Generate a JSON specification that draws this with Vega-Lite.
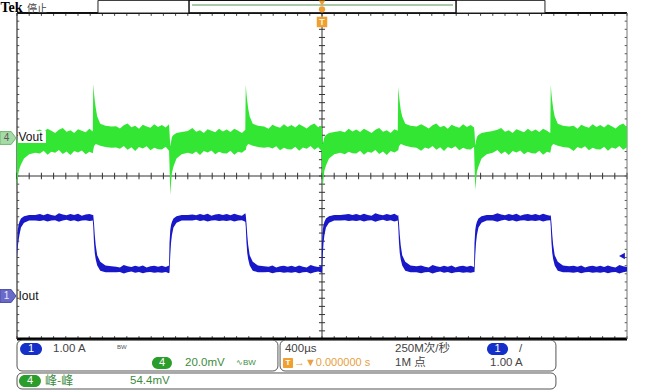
{
"$schema": "https://vega.github.io/schema/vega-lite/v6.json",
"width": 610, "height": 326,
"autosize": {"type": "none"},
"padding": {"left": 17, "top": 13, "right": 23, "bottom": 51},
"background": "white",
"config": {"view": {"stroke": null}, "text": {"font": "Liberation Sans"}},
"data": {"values": [{}]},
"datasets": {
"xt": [{"t":-2000},{"t":-1920},{"t":-1840},{"t":-1760},{"t":-1680},{"t":-1600},{"t":-1520},{"t":-1440},{"t":-1360},{"t":-1280},{"t":-1200},{"t":-1120},{"t":-1040},{"t":-960},{"t":-880},{"t":-800},{"t":-720},{"t":-640},{"t":-560},{"t":-480},{"t":-400},{"t":-320},{"t":-240},{"t":-160},{"t":-80},{"t":0},{"t":80},{"t":160},{"t":240},{"t":320},{"t":400},{"t":480},{"t":560},{"t":640},{"t":720},{"t":800},{"t":880},{"t":960},{"t":1040},{"t":1120},{"t":1200},{"t":1280},{"t":1360},{"t":1440},{"t":1520},{"t":1600},{"t":1680},{"t":1760},{"t":1840},{"t":1920},{"t":2000}],
"yt": [{"v":-4},{"v":-3.8},{"v":-3.6},{"v":-3.4},{"v":-3.2},{"v":-3},{"v":-2.8},{"v":-2.6},{"v":-2.4},{"v":-2.2},{"v":-2},{"v":-1.8},{"v":-1.6},{"v":-1.4},{"v":-1.2},{"v":-1},{"v":-0.8},{"v":-0.6},{"v":-0.4},{"v":-0.2},{"v":0},{"v":0.2},{"v":0.4},{"v":0.6},{"v":0.8},{"v":1},{"v":1.2},{"v":1.4},{"v":1.6},{"v":1.8},{"v":2},{"v":2.2},{"v":2.4},{"v":2.6},{"v":2.8},{"v":3},{"v":3.2},{"v":3.4},{"v":3.6},{"v":3.8},{"v":4}],
"tr": [
{"t":-2000,"vh":0,"vl":-24,"ih":1.2,"il":0.95},
{"t":-1995,"vh":-1.5,"vl":-20,"ih":1.62,"il":1.2},
{"t":-1990,"vh":-1,"vl":-17,"ih":1.74,"il":1.35},
{"t":-1984,"vh":0.5,"vl":-15,"ih":1.82,"il":1.5},
{"t":-1974,"vh":1.5,"vl":-13,"ih":1.9,"il":1.68},
{"t":-1954,"vh":2.5,"vl":-10,"ih":1.96,"il":1.8},
{"t":-1920,"vh":3,"vl":-8,"ih":1.99,"il":1.85},
{"t":-1880,"vh":3.4,"vl":-7.3,"ih":1.99,"il":1.85},
{"t":-1850,"vh":4.2,"vl":-7.6,"ih":2.01,"il":1.84},
{"t":-1825,"vh":2.9,"vl":-6.3,"ih":1.98,"il":1.86},
{"t":-1800,"vh":4.6,"vl":-8.2,"ih":2.02,"il":1.83},
{"t":-1775,"vh":3.6,"vl":-6.7,"ih":1.99,"il":1.85},
{"t":-1750,"vh":2.5,"vl":-7.3,"ih":1.97,"il":1.86},
{"t":-1725,"vh":4.0,"vl":-5.9,"ih":2.03,"il":1.82},
{"t":-1700,"vh":4.9,"vl":-7.8,"ih":2.0,"il":1.85},
{"t":-1675,"vh":3.1,"vl":-6.6,"ih":1.98,"il":1.87},
{"t":-1650,"vh":3.8,"vl":-8.4,"ih":2.01,"il":1.84},
{"t":-1625,"vh":2.4,"vl":-6.4,"ih":1.99,"il":1.86},
{"t":-1600,"vh":4.3,"vl":-7.1,"ih":2.02,"il":1.83},
{"t":-1575,"vh":3.5,"vl":-6.1,"ih":1.97,"il":1.85},
{"t":-1550,"vh":2.8,"vl":-8.0,"ih":2.0,"il":1.86},
{"t":-1525,"vh":4.5,"vl":-6.8,"ih":2.01,"il":1.84},
{"t":-1503,"vh":3.2,"vl":-7.5,"ih":1.99,"il":1.85},
{"t":-1500,"vh":26.5,"vl":-6,"ih":1.99,"il":1.7},
{"t":-1495,"vh":22,"vl":-4,"ih":1.78,"il":1.3},
{"t":-1490,"vh":18.5,"vl":-3.5,"ih":1.5,"il":1.05},
{"t":-1484,"vh":15,"vl":-3,"ih":1.25,"il":0.9},
{"t":-1474,"vh":10.5,"vl":-3.2,"ih":1.0,"il":0.75},
{"t":-1454,"vh":7,"vl":-3.8,"ih":0.84,"il":0.62},
{"t":-1420,"vh":6,"vl":-4.4,"ih":0.75,"il":0.585},
{"t":-1380,"vh":5.6,"vl":-4.8,"ih":0.73,"il":0.58},
{"t":-1350,"vh":5.8,"vl":-4.7,"ih":0.72,"il":0.58},
{"t":-1325,"vh":4.7,"vl":-5.3,"ih":0.7,"il":0.59},
{"t":-1300,"vh":6.2,"vl":-3.9,"ih":0.76,"il":0.55},
{"t":-1275,"vh":7.1,"vl":-5.8,"ih":0.73,"il":0.58},
{"t":-1250,"vh":5.3,"vl":-4.6,"ih":0.71,"il":0.6},
{"t":-1225,"vh":6.0,"vl":-6.4,"ih":0.74,"il":0.57},
{"t":-1200,"vh":4.6,"vl":-4.4,"ih":0.72,"il":0.59},
{"t":-1175,"vh":6.5,"vl":-5.1,"ih":0.75,"il":0.56},
{"t":-1150,"vh":5.7,"vl":-4.1,"ih":0.7,"il":0.58},
{"t":-1125,"vh":5.0,"vl":-6.0,"ih":0.73,"il":0.59},
{"t":-1100,"vh":6.7,"vl":-4.8,"ih":0.74,"il":0.57},
{"t":-1075,"vh":5.4,"vl":-5.5,"ih":0.72,"il":0.58},
{"t":-1050,"vh":6.4,"vl":-5.6,"ih":0.74,"il":0.57},
{"t":-1025,"vh":5.1,"vl":-4.3,"ih":0.71,"il":0.59},
{"t":-1003,"vh":6.8,"vl":-6.2,"ih":0.75,"il":0.56},
{"t":-1000,"vh":3,"vl":-13,"ih":1.3,"il":0.58},
{"t":-995,"vh":-4,"vl":-28,"ih":1.62,"il":1.0},
{"t":-990,"vh":-2,"vl":-22,"ih":1.74,"il":1.3},
{"t":-984,"vh":0.5,"vl":-17,"ih":1.82,"il":1.5},
{"t":-974,"vh":1.5,"vl":-14,"ih":1.9,"il":1.68},
{"t":-954,"vh":2.5,"vl":-10,"ih":1.96,"il":1.8},
{"t":-920,"vh":3,"vl":-8,"ih":1.99,"il":1.85},
{"t":-880,"vh":3.4,"vl":-7.3,"ih":1.99,"il":1.85},
{"t":-850,"vh":4.9,"vl":-7.8,"ih":2.0,"il":1.85},
{"t":-825,"vh":3.1,"vl":-6.6,"ih":1.98,"il":1.87},
{"t":-800,"vh":3.8,"vl":-8.4,"ih":2.01,"il":1.84},
{"t":-775,"vh":2.4,"vl":-6.4,"ih":1.99,"il":1.86},
{"t":-750,"vh":4.3,"vl":-7.1,"ih":2.02,"il":1.83},
{"t":-725,"vh":3.5,"vl":-6.1,"ih":1.97,"il":1.85},
{"t":-700,"vh":2.8,"vl":-8.0,"ih":2.0,"il":1.86},
{"t":-675,"vh":4.5,"vl":-6.8,"ih":2.01,"il":1.84},
{"t":-650,"vh":3.2,"vl":-7.5,"ih":1.99,"il":1.85},
{"t":-625,"vh":4.2,"vl":-7.6,"ih":2.01,"il":1.84},
{"t":-600,"vh":2.9,"vl":-6.3,"ih":1.98,"il":1.86},
{"t":-575,"vh":4.6,"vl":-8.2,"ih":2.02,"il":1.83},
{"t":-550,"vh":3.6,"vl":-6.7,"ih":1.99,"il":1.85},
{"t":-525,"vh":2.5,"vl":-7.3,"ih":1.97,"il":1.86},
{"t":-503,"vh":4.0,"vl":-5.9,"ih":2.03,"il":1.82},
{"t":-500,"vh":26,"vl":-6,"ih":1.99,"il":1.7},
{"t":-495,"vh":21.5,"vl":-4,"ih":1.78,"il":1.3},
{"t":-490,"vh":18,"vl":-3.5,"ih":1.5,"il":1.05},
{"t":-484,"vh":14.5,"vl":-3,"ih":1.25,"il":0.9},
{"t":-474,"vh":10.5,"vl":-3.2,"ih":1.0,"il":0.75},
{"t":-454,"vh":7,"vl":-3.8,"ih":0.84,"il":0.62},
{"t":-420,"vh":6,"vl":-4.4,"ih":0.75,"il":0.585},
{"t":-380,"vh":5.6,"vl":-4.8,"ih":0.73,"il":0.58},
{"t":-350,"vh":4.6,"vl":-4.4,"ih":0.72,"il":0.59},
{"t":-325,"vh":6.5,"vl":-5.1,"ih":0.75,"il":0.56},
{"t":-300,"vh":5.7,"vl":-4.1,"ih":0.7,"il":0.58},
{"t":-275,"vh":5.0,"vl":-6.0,"ih":0.73,"il":0.59},
{"t":-250,"vh":6.7,"vl":-4.8,"ih":0.74,"il":0.57},
{"t":-225,"vh":5.4,"vl":-5.5,"ih":0.72,"il":0.58},
{"t":-200,"vh":6.4,"vl":-5.6,"ih":0.74,"il":0.57},
{"t":-175,"vh":5.1,"vl":-4.3,"ih":0.71,"il":0.59},
{"t":-150,"vh":6.8,"vl":-6.2,"ih":0.75,"il":0.56},
{"t":-125,"vh":5.8,"vl":-4.7,"ih":0.72,"il":0.58},
{"t":-100,"vh":4.7,"vl":-5.3,"ih":0.7,"il":0.59},
{"t":-75,"vh":6.2,"vl":-3.9,"ih":0.76,"il":0.55},
{"t":-50,"vh":7.1,"vl":-5.8,"ih":0.73,"il":0.58},
{"t":-25,"vh":5.3,"vl":-4.6,"ih":0.71,"il":0.6},
{"t":-3,"vh":6.0,"vl":-6.4,"ih":0.74,"il":0.57},
{"t":0,"vh":3,"vl":-13,"ih":1.3,"il":0.58},
{"t":5,"vh":-3,"vl":-24.5,"ih":1.62,"il":1.0},
{"t":10,"vh":-1.5,"vl":-20,"ih":1.74,"il":1.3},
{"t":16,"vh":0.5,"vl":-16,"ih":1.82,"il":1.5},
{"t":26,"vh":1.5,"vl":-13.5,"ih":1.9,"il":1.68},
{"t":46,"vh":2.5,"vl":-10,"ih":1.96,"il":1.8},
{"t":80,"vh":3,"vl":-8,"ih":1.99,"il":1.85},
{"t":120,"vh":3.4,"vl":-7.3,"ih":1.99,"il":1.85},
{"t":150,"vh":2.8,"vl":-8.0,"ih":2.0,"il":1.86},
{"t":175,"vh":4.5,"vl":-6.8,"ih":2.01,"il":1.84},
{"t":200,"vh":3.2,"vl":-7.5,"ih":1.99,"il":1.85},
{"t":225,"vh":4.2,"vl":-7.6,"ih":2.01,"il":1.84},
{"t":250,"vh":2.9,"vl":-6.3,"ih":1.98,"il":1.86},
{"t":275,"vh":4.6,"vl":-8.2,"ih":2.02,"il":1.83},
{"t":300,"vh":3.6,"vl":-6.7,"ih":1.99,"il":1.85},
{"t":325,"vh":2.5,"vl":-7.3,"ih":1.97,"il":1.86},
{"t":350,"vh":4.0,"vl":-5.9,"ih":2.03,"il":1.82},
{"t":375,"vh":4.9,"vl":-7.8,"ih":2.0,"il":1.85},
{"t":400,"vh":3.1,"vl":-6.6,"ih":1.98,"il":1.87},
{"t":425,"vh":3.8,"vl":-8.4,"ih":2.01,"il":1.84},
{"t":450,"vh":2.4,"vl":-6.4,"ih":1.99,"il":1.86},
{"t":475,"vh":4.3,"vl":-7.1,"ih":2.02,"il":1.83},
{"t":497,"vh":3.5,"vl":-6.1,"ih":1.97,"il":1.85},
{"t":500,"vh":25,"vl":-6,"ih":1.99,"il":1.7},
{"t":505,"vh":21,"vl":-4,"ih":1.78,"il":1.3},
{"t":510,"vh":17.5,"vl":-3.5,"ih":1.5,"il":1.05},
{"t":516,"vh":14,"vl":-3,"ih":1.25,"il":0.9},
{"t":526,"vh":10.5,"vl":-3.2,"ih":1.0,"il":0.75},
{"t":546,"vh":7,"vl":-3.8,"ih":0.84,"il":0.62},
{"t":580,"vh":6,"vl":-4.4,"ih":0.75,"il":0.585},
{"t":620,"vh":5.6,"vl":-4.8,"ih":0.73,"il":0.58},
{"t":650,"vh":6.8,"vl":-6.2,"ih":0.75,"il":0.56},
{"t":675,"vh":5.8,"vl":-4.7,"ih":0.72,"il":0.58},
{"t":700,"vh":4.7,"vl":-5.3,"ih":0.7,"il":0.59},
{"t":725,"vh":6.2,"vl":-3.9,"ih":0.76,"il":0.55},
{"t":750,"vh":7.1,"vl":-5.8,"ih":0.73,"il":0.58},
{"t":775,"vh":5.3,"vl":-4.6,"ih":0.71,"il":0.6},
{"t":800,"vh":6.0,"vl":-6.4,"ih":0.74,"il":0.57},
{"t":825,"vh":4.6,"vl":-4.4,"ih":0.72,"il":0.59},
{"t":850,"vh":6.5,"vl":-5.1,"ih":0.75,"il":0.56},
{"t":875,"vh":5.7,"vl":-4.1,"ih":0.7,"il":0.58},
{"t":900,"vh":5.0,"vl":-6.0,"ih":0.73,"il":0.59},
{"t":925,"vh":6.7,"vl":-4.8,"ih":0.74,"il":0.57},
{"t":950,"vh":5.4,"vl":-5.5,"ih":0.72,"il":0.58},
{"t":975,"vh":6.4,"vl":-5.6,"ih":0.74,"il":0.57},
{"t":997,"vh":5.1,"vl":-4.3,"ih":0.71,"il":0.59},
{"t":1000,"vh":3,"vl":-13,"ih":1.3,"il":0.58},
{"t":1005,"vh":-3.5,"vl":-25.5,"ih":1.62,"il":1.0},
{"t":1010,"vh":-1.5,"vl":-21,"ih":1.74,"il":1.3},
{"t":1016,"vh":0.5,"vl":-16.5,"ih":1.82,"il":1.5},
{"t":1026,"vh":1.5,"vl":-14,"ih":1.9,"il":1.68},
{"t":1046,"vh":2.5,"vl":-10,"ih":1.96,"il":1.8},
{"t":1080,"vh":3,"vl":-8,"ih":1.99,"il":1.85},
{"t":1120,"vh":3.4,"vl":-7.3,"ih":1.99,"il":1.85},
{"t":1150,"vh":4.0,"vl":-5.9,"ih":2.03,"il":1.82},
{"t":1175,"vh":4.9,"vl":-7.8,"ih":2.0,"il":1.85},
{"t":1200,"vh":3.1,"vl":-6.6,"ih":1.98,"il":1.87},
{"t":1225,"vh":3.8,"vl":-8.4,"ih":2.01,"il":1.84},
{"t":1250,"vh":2.4,"vl":-6.4,"ih":1.99,"il":1.86},
{"t":1275,"vh":4.3,"vl":-7.1,"ih":2.02,"il":1.83},
{"t":1300,"vh":3.5,"vl":-6.1,"ih":1.97,"il":1.85},
{"t":1325,"vh":2.8,"vl":-8.0,"ih":2.0,"il":1.86},
{"t":1350,"vh":4.5,"vl":-6.8,"ih":2.01,"il":1.84},
{"t":1375,"vh":3.2,"vl":-7.5,"ih":1.99,"il":1.85},
{"t":1400,"vh":4.2,"vl":-7.6,"ih":2.01,"il":1.84},
{"t":1425,"vh":2.9,"vl":-6.3,"ih":1.98,"il":1.86},
{"t":1450,"vh":4.6,"vl":-8.2,"ih":2.02,"il":1.83},
{"t":1475,"vh":3.6,"vl":-6.7,"ih":1.99,"il":1.85},
{"t":1497,"vh":2.5,"vl":-7.3,"ih":1.97,"il":1.86},
{"t":1500,"vh":26,"vl":-6,"ih":1.99,"il":1.7},
{"t":1505,"vh":21.5,"vl":-4,"ih":1.78,"il":1.3},
{"t":1510,"vh":18,"vl":-3.5,"ih":1.5,"il":1.05},
{"t":1516,"vh":14.5,"vl":-3,"ih":1.25,"il":0.9},
{"t":1526,"vh":10.5,"vl":-3.2,"ih":1.0,"il":0.75},
{"t":1546,"vh":7,"vl":-3.8,"ih":0.84,"il":0.62},
{"t":1580,"vh":6,"vl":-4.4,"ih":0.75,"il":0.585},
{"t":1620,"vh":5.6,"vl":-4.8,"ih":0.73,"il":0.58},
{"t":1650,"vh":6.0,"vl":-6.4,"ih":0.74,"il":0.57},
{"t":1675,"vh":4.6,"vl":-4.4,"ih":0.72,"il":0.59},
{"t":1700,"vh":6.5,"vl":-5.1,"ih":0.75,"il":0.56},
{"t":1725,"vh":5.7,"vl":-4.1,"ih":0.7,"il":0.58},
{"t":1750,"vh":5.0,"vl":-6.0,"ih":0.73,"il":0.59},
{"t":1775,"vh":6.7,"vl":-4.8,"ih":0.74,"il":0.57},
{"t":1800,"vh":5.4,"vl":-5.5,"ih":0.72,"il":0.58},
{"t":1825,"vh":6.4,"vl":-5.6,"ih":0.74,"il":0.57},
{"t":1850,"vh":5.1,"vl":-4.3,"ih":0.71,"il":0.59},
{"t":1875,"vh":6.8,"vl":-6.2,"ih":0.75,"il":0.56},
{"t":1900,"vh":5.8,"vl":-4.7,"ih":0.72,"il":0.58},
{"t":1925,"vh":4.7,"vl":-5.3,"ih":0.7,"il":0.59},
{"t":1950,"vh":6.2,"vl":-3.9,"ih":0.76,"il":0.55},
{"t":1975,"vh":7.1,"vl":-5.8,"ih":0.73,"il":0.58},
{"t":2000,"vh":5.3,"vl":-4.6,"ih":0.71,"il":0.6}
]
},
"resolve": {"scale": {"y": "independent"}},
"layer": [
{
"layer": [
{"mark": {"type": "rule", "color": "#333333", "strokeWidth": 1},
 "encoding": {
  "x": {"datum": 0, "type": "quantitative", "scale": {"domain": [-2000, 2000]}, "axis": {"values": [-1600,-1200,-800,-400,400,800,1200,1600], "grid": true, "gridColor": "#8c8c8c", "gridDash": [1.2, 6.95], "gridWidth": 1.2, "labels": false, "ticks": false, "domain": false, "title": null}},
  "y": {"datum": -4, "type": "quantitative", "scale": {"domain": [-4, 4]}, "axis": {"values": [-3,-2,-1,1,2,3], "grid": true, "gridColor": "#8c8c8c", "gridDash": [1.2, 11], "gridWidth": 1.2, "labels": false, "ticks": false, "domain": false, "title": null}},
  "y2": {"datum": 4}}},
{"mark": {"type": "rule", "color": "#333333", "strokeWidth": 1},
 "encoding": {"x": {"datum": -2000, "type": "quantitative", "axis": null}, "x2": {"datum": 2000}, "y": {"datum": 0, "type": "quantitative", "axis": null}}},
{"data": {"name": "xt"}, "mark": {"type": "rule", "color": "#333333", "strokeWidth": 1},
 "encoding": {"x": {"field": "t", "type": "quantitative", "axis": null}, "y": {"datum": -0.08, "type": "quantitative", "axis": null}, "y2": {"datum": 0.08}}},
{"data": {"name": "xt"}, "mark": {"type": "rule", "color": "#444444", "strokeWidth": 1},
 "encoding": {"x": {"field": "t", "type": "quantitative", "axis": null}, "y": {"datum": 4, "type": "quantitative", "axis": null}, "y2": {"datum": 3.93}}},
{"data": {"name": "xt"}, "mark": {"type": "rule", "color": "#444444", "strokeWidth": 1},
 "encoding": {"x": {"field": "t", "type": "quantitative", "axis": null}, "y": {"datum": -4, "type": "quantitative", "axis": null}, "y2": {"datum": -3.93}}},
{"data": {"name": "yt"}, "mark": {"type": "rule", "color": "#333333", "strokeWidth": 1},
 "encoding": {"y": {"field": "v", "type": "quantitative", "axis": null}, "x": {"datum": -20, "type": "quantitative", "axis": null}, "x2": {"datum": 20}}},
{"data": {"name": "yt"}, "mark": {"type": "rule", "color": "#555555", "strokeWidth": 1},
 "encoding": {"y": {"field": "v", "type": "quantitative", "axis": null}, "x": {"datum": -2000, "type": "quantitative", "axis": null}, "x2": {"datum": -1985}}},
{"data": {"name": "yt"}, "mark": {"type": "rule", "color": "#555555", "strokeWidth": 1},
 "encoding": {"y": {"field": "v", "type": "quantitative", "axis": null}, "x": {"datum": 2000, "type": "quantitative", "axis": null}, "x2": {"datum": 1985}}},
{"mark": {"type": "rule", "color": "#111111", "strokeWidth": 2},
 "encoding": {"x": {"datum": -2000, "type": "quantitative", "axis": null}, "x2": {"datum": 2000}, "y": {"datum": 4, "type": "quantitative", "axis": null}}},
{"mark": {"type": "rule", "color": "#000000", "strokeWidth": 3},
 "encoding": {"x": {"datum": -2000, "type": "quantitative", "axis": null}, "x2": {"datum": 2000}, "y": {"datum": -4, "type": "quantitative", "axis": null}}},
{"mark": {"type": "rule", "color": "#333333", "strokeWidth": 1.2},
 "encoding": {"x": {"datum": -2000, "type": "quantitative", "axis": null}, "y": {"datum": -4, "type": "quantitative", "axis": null}, "y2": {"datum": 4}}},
{"mark": {"type": "rule", "color": "#777777", "strokeWidth": 1},
 "encoding": {"x": {"datum": 2000, "type": "quantitative", "axis": null}, "y": {"datum": -4, "type": "quantitative", "axis": null}, "y2": {"datum": 4}}}
]
},
{"data": {"name": "tr"}, "mark": {"type": "area", "color": "#1818c8", "opacity": 1},
 "encoding": {"x": {"field": "t", "type": "quantitative", "scale": {"domain": [-2000, 2000]}, "axis": null},
  "y": {"field": "ih", "type": "quantitative", "scale": {"domain": [-1.055, 6.945]}, "axis": null}, "y2": {"field": "il"}}},
{"data": {"name": "tr"}, "mark": {"type": "area", "color": "#33e633", "opacity": 1},
 "encoding": {"x": {"field": "t", "type": "quantitative", "scale": {"domain": [-2000, 2000]}, "axis": null},
  "y": {"field": "vh", "type": "quantitative", "scale": {"domain": [-98.65, 61.35]}, "axis": null}, "y2": {"field": "vl"}}},
{
"layer": [
{"mark": {"type": "rect", "fill": "white"},
 "encoding": {"x": {"datum": -1993, "type": "quantitative", "scale": {"domain": [-2000, 2000]}, "axis": null}, "x2": {"datum": -1810},
  "y": {"datum": 1.104, "type": "quantitative", "scale": {"domain": [-4, 4]}, "axis": null}, "y2": {"datum": 0.81}}},
{"mark": {"type": "text", "text": "Vout", "align": "left", "baseline": "middle", "fontSize": 12, "color": "#111111"},
 "encoding": {"x": {"datum": -1990, "type": "quantitative", "axis": null}, "y": {"datum": 0.95, "type": "quantitative", "axis": null}}},
{"mark": {"type": "text", "text": "Iout", "align": "left", "baseline": "middle", "fontSize": 12, "color": "#111111"},
 "encoding": {"x": {"datum": -1990, "type": "quantitative", "axis": null}, "y": {"datum": -2.945, "type": "quantitative", "axis": null}}},
{"mark": {"type": "point", "shape": "M-1,-0.8L0.4,-0.8L1,0L0.4,0.8L-1,0.8Z", "filled": true, "fill": "#a6daa6", "stroke": "#70b870", "strokeWidth": 1, "size": 256, "opacity": 1},
 "encoding": {"x": {"datum": -2059, "type": "quantitative", "axis": null}, "y": {"datum": 0.932, "type": "quantitative", "axis": null}}},
{"mark": {"type": "text", "text": "4", "align": "center", "baseline": "middle", "fontSize": 10, "color": "#5a5a5a"},
 "encoding": {"x": {"datum": -2068, "type": "quantitative", "axis": null}, "y": {"datum": 0.932, "type": "quantitative", "axis": null}}},
{"mark": {"type": "point", "shape": "M-1,-0.8L0.4,-0.8L1,0L0.4,0.8L-1,0.8Z", "filled": true, "fill": "#6a6ac8", "stroke": "#4a4aa8", "strokeWidth": 1, "size": 256, "opacity": 1},
 "encoding": {"x": {"datum": -2059, "type": "quantitative", "axis": null}, "y": {"datum": -2.945, "type": "quantitative", "axis": null}}},
{"mark": {"type": "text", "text": "1", "align": "center", "baseline": "middle", "fontSize": 10, "color": "#e8e8ff"},
 "encoding": {"x": {"datum": -2068, "type": "quantitative", "axis": null}, "y": {"datum": -2.945, "type": "quantitative", "axis": null}}},
{"mark": {"type": "point", "shape": "triangle-left", "filled": true, "color": "#1818c8", "size": 45, "opacity": 1},
 "encoding": {"x": {"datum": 1967, "type": "quantitative", "axis": null}, "y": {"datum": -1.963, "type": "quantitative", "axis": null}}},
{"mark": {"type": "rect", "fill": "white", "stroke": "#222222", "strokeWidth": 1},
 "encoding": {"x": {"datum": -1469, "type": "quantitative", "axis": null}, "x2": {"datum": 1462}, "y": {"datum": 4.31, "type": "quantitative", "axis": null}, "y2": {"datum": 4.0}}},
{"mark": {"type": "rect", "fillOpacity": 0, "stroke": "#111111", "strokeWidth": 1.5},
 "encoding": {"x": {"datum": -872, "type": "quantitative", "axis": null}, "x2": {"datum": 879}, "y": {"datum": 4.31, "type": "quantitative", "axis": null}, "y2": {"datum": 4.0}}},
{"mark": {"type": "rule", "color": "#a9c9a9", "strokeWidth": 2},
 "encoding": {"x": {"datum": -852, "type": "quantitative", "axis": null}, "x2": {"datum": 859}, "y": {"datum": 4.196, "type": "quantitative", "axis": null}}},
{"mark": {"type": "point", "shape": "triangle-down", "filled": true, "color": "#f0a030", "size": 40, "opacity": 1},
 "encoding": {"x": {"datum": 0, "type": "quantitative", "axis": null}, "y": {"datum": 4.24, "type": "quantitative", "axis": null}}},
{"mark": {"type": "point", "shape": "circle", "filled": true, "color": "#f0a030", "size": 40, "opacity": 1},
 "encoding": {"x": {"datum": 0, "type": "quantitative", "axis": null}, "y": {"datum": 4.09, "type": "quantitative", "axis": null}}},
{"mark": {"type": "point", "shape": "square", "filled": true, "color": "#f0a030", "size": 110, "opacity": 1},
 "encoding": {"x": {"datum": 0, "type": "quantitative", "axis": null}, "y": {"datum": 3.78, "type": "quantitative", "axis": null}}},
{"mark": {"type": "text", "text": "T", "align": "center", "baseline": "middle", "fontSize": 9, "fontWeight": "bold", "color": "#fff4dc"},
 "encoding": {"x": {"datum": 0, "type": "quantitative", "axis": null}, "y": {"datum": 3.78, "type": "quantitative", "axis": null}}},
{"mark": {"type": "text", "text": "Tek", "align": "left", "baseline": "top", "font": "Liberation Serif", "fontWeight": "bold", "fontSize": 14, "color": "#000000"},
 "encoding": {"x": {"datum": -2108, "type": "quantitative", "axis": null}, "y": {"datum": 4.29, "type": "quantitative", "axis": null}}},
{"mark": {"type": "text", "text": "停止", "align": "left", "baseline": "alphabetic", "font": "Noto Sans CJK SC", "fontSize": 10, "color": "#444444"},
 "encoding": {"x": {"datum": -1934, "type": "quantitative", "axis": null}, "y": {"datum": 4.02, "type": "quantitative", "axis": null}}},
{"mark": {"type": "rect", "fill": "white", "stroke": "#555555", "strokeWidth": 1, "cornerRadius": 5},
 "encoding": {"x": {"datum": -2000, "type": "quantitative", "axis": null}, "x2": {"datum": -289}, "y": {"datum": -4.03, "type": "quantitative", "axis": null}, "y2": {"datum": -4.785}}},
{"mark": {"type": "rect", "fill": "white", "stroke": "#555555", "strokeWidth": 1, "cornerRadius": 5},
 "encoding": {"x": {"datum": -275, "type": "quantitative", "axis": null}, "x2": {"datum": 1534}, "y": {"datum": -4.03, "type": "quantitative", "axis": null}, "y2": {"datum": -4.785}}},
{"mark": {"type": "rect", "fill": "white", "stroke": "#555555", "strokeWidth": 1, "cornerRadius": 5},
 "encoding": {"x": {"datum": -2000, "type": "quantitative", "axis": null}, "x2": {"datum": 1534}, "y": {"datum": -4.834, "type": "quantitative", "axis": null}, "y2": {"datum": -5.227}}},
{"mark": {"type": "rect", "fill": "#1530c8", "cornerRadius": 6},
 "encoding": {"x": {"datum": -1980, "type": "quantitative", "axis": null}, "x2": {"datum": -1836}, "y": {"datum": -4.098, "type": "quantitative", "axis": null}, "y2": {"datum": -4.393}}},
{"mark": {"type": "text", "text": "1", "align": "center", "baseline": "middle", "fontSize": 11, "color": "white"},
 "encoding": {"x": {"datum": -1908, "type": "quantitative", "axis": null}, "y": {"datum": -4.245, "type": "quantitative", "axis": null}}},
{"mark": {"type": "text", "text": "1.00 A", "align": "left", "baseline": "middle", "fontSize": 11.5, "color": "#444444"},
 "encoding": {"x": {"datum": -1764, "type": "quantitative", "axis": null}, "y": {"datum": -4.245, "type": "quantitative", "axis": null}}},
{"mark": {"type": "text", "text": "BW", "align": "left", "baseline": "middle", "fontSize": 6, "color": "#555555"},
 "encoding": {"x": {"datum": -1344, "type": "quantitative", "axis": null}, "y": {"datum": -4.2, "type": "quantitative", "axis": null}}},
{"mark": {"type": "rect", "fill": "#2a9d2a", "cornerRadius": 6},
 "encoding": {"x": {"datum": -1115, "type": "quantitative", "axis": null}, "x2": {"datum": -984}, "y": {"datum": -4.442, "type": "quantitative", "axis": null}, "y2": {"datum": -4.736}}},
{"mark": {"type": "text", "text": "4", "align": "center", "baseline": "middle", "fontSize": 11, "color": "white"},
 "encoding": {"x": {"datum": -1049, "type": "quantitative", "axis": null}, "y": {"datum": -4.589, "type": "quantitative", "axis": null}}},
{"mark": {"type": "text", "text": "20.0mV", "align": "left", "baseline": "middle", "fontSize": 11.5, "color": "#3c8c3c"},
 "encoding": {"x": {"datum": -898, "type": "quantitative", "axis": null}, "y": {"datum": -4.589, "type": "quantitative", "axis": null}}},
{"mark": {"type": "text", "text": "∿BW", "align": "left", "baseline": "middle", "fontSize": 8, "color": "#3c8c3c"},
 "encoding": {"x": {"datum": -564, "type": "quantitative", "axis": null}, "y": {"datum": -4.589, "type": "quantitative", "axis": null}}},
{"mark": {"type": "text", "text": "400µs", "align": "left", "baseline": "middle", "fontSize": 11.5, "color": "#444444"},
 "encoding": {"x": {"datum": -243, "type": "quantitative", "axis": null}, "y": {"datum": -4.245, "type": "quantitative", "axis": null}}},
{"mark": {"type": "text", "text": "250M次/秒", "align": "left", "baseline": "middle", "font": "Liberation Sans, Noto Sans CJK SC", "fontSize": 11.5, "color": "#444444"},
 "encoding": {"x": {"datum": 479, "type": "quantitative", "axis": null}, "y": {"datum": -4.245, "type": "quantitative", "axis": null}}},
{"mark": {"type": "rect", "fill": "#1530c8", "cornerRadius": 6},
 "encoding": {"x": {"datum": 1082, "type": "quantitative", "axis": null}, "x2": {"datum": 1220}, "y": {"datum": -4.098, "type": "quantitative", "axis": null}, "y2": {"datum": -4.393}}},
{"mark": {"type": "text", "text": "1", "align": "center", "baseline": "middle", "fontSize": 11, "color": "white"},
 "encoding": {"x": {"datum": 1151, "type": "quantitative", "axis": null}, "y": {"datum": -4.245, "type": "quantitative", "axis": null}}},
{"mark": {"type": "text", "text": "/", "align": "left", "baseline": "middle", "fontSize": 11.5, "color": "#444444"},
 "encoding": {"x": {"datum": 1292, "type": "quantitative", "axis": null}, "y": {"datum": -4.245, "type": "quantitative", "axis": null}}},
{"mark": {"type": "rect", "fill": "#f0a030", "cornerRadius": 1},
 "encoding": {"x": {"datum": -256, "type": "quantitative", "axis": null}, "x2": {"datum": -190}, "y": {"datum": -4.466, "type": "quantitative", "axis": null}, "y2": {"datum": -4.712}}},
{"mark": {"type": "text", "text": "T", "align": "center", "baseline": "middle", "fontSize": 8, "fontWeight": "bold", "color": "white"},
 "encoding": {"x": {"datum": -223, "type": "quantitative", "axis": null}, "y": {"datum": -4.589, "type": "quantitative", "axis": null}}},
{"mark": {"type": "text", "text": "→▼0.000000 s", "align": "left", "baseline": "middle", "fontSize": 11, "color": "#e8a040"},
 "encoding": {"x": {"datum": -184, "type": "quantitative", "axis": null}, "y": {"datum": -4.589, "type": "quantitative", "axis": null}}},
{"mark": {"type": "text", "text": "1M 点", "align": "left", "baseline": "middle", "font": "Liberation Sans, Noto Sans CJK SC", "fontSize": 11.5, "color": "#444444"},
 "encoding": {"x": {"datum": 479, "type": "quantitative", "axis": null}, "y": {"datum": -4.589, "type": "quantitative", "axis": null}}},
{"mark": {"type": "text", "text": "1.00 A", "align": "left", "baseline": "middle", "fontSize": 11.5, "color": "#444444"},
 "encoding": {"x": {"datum": 1102, "type": "quantitative", "axis": null}, "y": {"datum": -4.589, "type": "quantitative", "axis": null}}},
{"mark": {"type": "rect", "fill": "#2a9d2a", "cornerRadius": 6},
 "encoding": {"x": {"datum": -1987, "type": "quantitative", "axis": null}, "x2": {"datum": -1843}, "y": {"datum": -4.883, "type": "quantitative", "axis": null}, "y2": {"datum": -5.178}}},
{"mark": {"type": "text", "text": "4", "align": "center", "baseline": "middle", "fontSize": 11, "color": "white"},
 "encoding": {"x": {"datum": -1915, "type": "quantitative", "axis": null}, "y": {"datum": -5.031, "type": "quantitative", "axis": null}}},
{"mark": {"type": "text", "text": "峰-峰", "align": "left", "baseline": "middle", "font": "Noto Sans CJK SC", "fontSize": 12, "color": "#3c8c3c"},
 "encoding": {"x": {"datum": -1816, "type": "quantitative", "axis": null}, "y": {"datum": -5.031, "type": "quantitative", "axis": null}}},
{"mark": {"type": "text", "text": "54.4mV", "align": "left", "baseline": "middle", "fontSize": 11.5, "color": "#3c8c3c"},
 "encoding": {"x": {"datum": -1259, "type": "quantitative", "axis": null}, "y": {"datum": -5.031, "type": "quantitative", "axis": null}}}
]
}
]
}
